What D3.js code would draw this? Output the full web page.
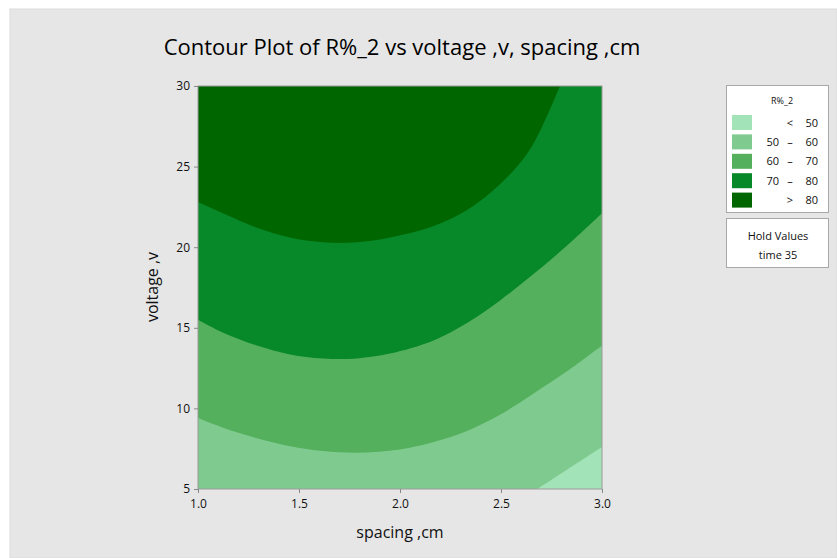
<!DOCTYPE html>
<meta charset="utf-8">
<style>
body { margin: 0; background: #fff; }
text { font-family: "Open Sans", "Noto Sans", sans-serif; fill: #111; }
</style>
<svg width="837" height="558"></svg>
<script src="https://d3js.org/d3.v7.min.js"></script>
<script>

// boundaries between bands as [spacing, voltage]
var edge80 = [[1.0, 22.8], [1.124, 22.1], [1.292, 21.2], [1.455, 20.6], [1.619, 20.3],
  [1.787, 20.3], [1.95, 20.6], [2.163, 21.3], [2.332, 22.3], [2.495, 23.9],
  [2.629, 25.8], [2.708, 27.6], [2.792, 30]];
var edge70 = [[1.0, 15.5], [1.124, 14.7], [1.292, 13.9], [1.455, 13.35], [1.619, 13.1],
  [1.787, 13.1], [1.95, 13.4], [2.163, 14.2], [2.332, 15.3], [2.495, 16.7],
  [2.658, 18.3], [2.827, 20.1], [3.0, 22.1]];
var edge60 = [[1.0, 9.4], [1.124, 8.8], [1.292, 8.15], [1.455, 7.65], [1.619, 7.35],
  [1.787, 7.25], [2.0, 7.45], [2.163, 7.9], [2.332, 8.6], [2.495, 9.6],
  [2.658, 10.9], [2.827, 12.3], [3.0, 13.9]];
var edge50 = [[2.678, 5.0], [2.827, 6.2], [3.0, 7.6]];

var bandLow = ["", "50", "60", "70", ""];
var bandSign = ["<", "\u2013", "\u2013", "\u2013", ">"];
var bandHigh = ["50", "60", "70", "80", "80"];
var colors = ["#a3e3b8", "#7fcb8f", "#55b05e", "#078829", "#006600"];

var xTicks = [1.0, 1.5, 2.0, 2.5, 3.0];
var yTicks = [5, 10, 15, 20, 25, 30];

var svg = d3.select("svg");

// gray panel
svg.append("rect")
    .attr("x", 10).attr("y", 9)
    .attr("width", 827).attr("height", 549)
    .attr("fill", "#e6e6e6")
    .attr("stroke", "#dcdcdc");

var x = d3.scaleLinear().domain([1, 3]).range([198, 602]);
var y = d3.scaleLinear().domain([5, 30]).range([489, 86]);

svg.append("clipPath").attr("id", "clip")
  .append("rect")
    .attr("x", x(1)).attr("y", y(30))
    .attr("width", x(3) - x(1)).attr("height", y(5) - y(30));

var plot = svg.append("g").attr("clip-path", "url(#clip)");

plot.append("rect")
    .attr("x", x(1)).attr("y", y(30))
    .attr("width", x(3) - x(1)).attr("height", y(5) - y(30))
    .attr("fill", colors[0]);

var line = d3.line()
    .x(function(d) { return x(d[0]); })
    .y(function(d) { return y(d[1]); })
    .curve(d3.curveCatmullRom.alpha(0.5));

// each band covers everything above (upper left of) its boundary
function band(pts) {
  var first = pts[0];
  return line(pts) +
    "L" + x(3) + "," + y(30) +
    "L" + x(1) + "," + y(30) +
    "L" + x(1) + "," + y(5) +
    "L" + x(first[0]) + "," + y(first[1]) + "Z";
}

[edge50, edge60, edge70, edge80].forEach(function(pts, i) {
  plot.append("path")
      .attr("d", band(pts))
      .attr("fill", colors[i + 1]);
});

svg.append("rect")
    .attr("x", x(1)).attr("y", y(30))
    .attr("width", x(3) - x(1)).attr("height", y(5) - y(30))
    .attr("fill", "none")
    .attr("stroke", "#9a9a9a")
    .attr("stroke-width", 1);

// axes
var xAxis = svg.append("g")
    .attr("transform", "translate(0," + y(5) + ")")
    .call(d3.axisBottom(x).tickValues(xTicks).tickFormat(d3.format(".1f")).tickSize(4).tickPadding(6));
var yAxis = svg.append("g")
    .attr("transform", "translate(" + x(1) + ",0)")
    .call(d3.axisLeft(y).tickValues(yTicks).tickSize(4).tickPadding(4));

[xAxis, yAxis].forEach(function(a) {
  a.select(".domain").remove();
  a.selectAll(".tick line").attr("stroke", "#888");
  a.selectAll(".tick text")
      .attr("fill", "#111")
      .style("font-family", "'Open Sans', sans-serif")
      .style("font-size", "12px");
});

svg.append("text")
    .attr("x", 402).attr("y", 55)
    .attr("text-anchor", "middle")
    .style("font-size", "22px")
    .style("fill", "#000")
    .text("Contour Plot of R%_2 vs voltage ,v, spacing ,cm");

svg.append("text")
    .attr("x", 400).attr("y", 538)
    .attr("text-anchor", "middle")
    .style("font-size", "16px")
    .text("spacing ,cm");

svg.append("text")
    .attr("transform", "translate(158,287) rotate(-90)")
    .attr("text-anchor", "middle")
    .style("font-size", "16px")
    .text("voltage ,v");

// legend
var leg = svg.append("g");
leg.append("rect")
    .attr("x", 726.5).attr("y", 85.5)
    .attr("width", 102).attr("height", 127)
    .attr("fill", "#fff").attr("stroke", "#a8a8a8");

leg.append("text")
    .attr("x", 782).attr("y", 104)
    .attr("text-anchor", "middle")
    .style("font-size", "9px")
    .text("R%_2");

var rows = leg.selectAll(".row")
  .data(colors)
  .enter().append("g")
    .attr("transform", function(d, i) { return "translate(0," + (115 + i * 19.4) + ")"; });

rows.append("rect")
    .attr("x", 732).attr("width", 20).attr("height", 15)
    .attr("fill", function(d) { return d; });

rows.append("text")
    .attr("x", 779).attr("y", 11.5)
    .attr("text-anchor", "end")
    .style("font-size", "11px")
    .text(function(d, i) { return bandLow[i]; });
rows.append("text")
    .attr("x", 790).attr("y", 11.5)
    .attr("text-anchor", "middle")
    .style("font-size", "11px")
    .text(function(d, i) { return bandSign[i]; });
rows.append("text")
    .attr("x", 818).attr("y", 11.5)
    .attr("text-anchor", "end")
    .style("font-size", "11px")
    .text(function(d, i) { return bandHigh[i]; });

leg.append("rect")
    .attr("x", 726.5).attr("y", 218.5)
    .attr("width", 102).attr("height", 49)
    .attr("fill", "#fff").attr("stroke", "#a8a8a8");
leg.append("text")
    .attr("x", 778).attr("y", 240)
    .attr("text-anchor", "middle")
    .style("font-size", "11px")
    .text("Hold Values");
leg.append("text")
    .attr("x", 778).attr("y", 259)
    .attr("text-anchor", "middle")
    .style("font-size", "11px")
    .text("time 35");

</script>
